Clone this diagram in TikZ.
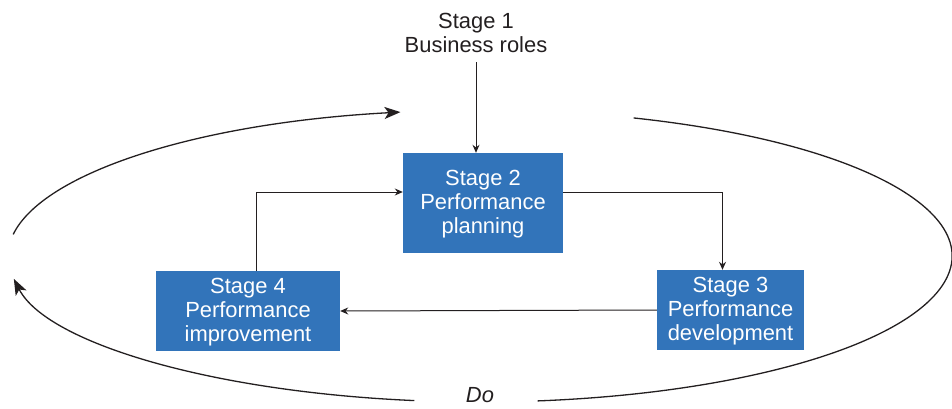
\documentclass[tikz,border=0pt]{standalone}
\usepackage{fontspec}
\setmainfont{Liberation Sans}
\usetikzlibrary{arrows.meta}
\definecolor{stageblue}{RGB}{50,116,186}
\definecolor{inkgray}{RGB}{35,31,32}
\begin{document}
\begin{tikzpicture}[x=1bp,y=1bp,
    stagebox/.style={fill=stageblue,text=white,align=center,inner sep=0pt,
      font=\fontsize{22}{24}\selectfont},
    link/.style={draw=inkgray,line width=1bp,-{Stealth[length=8bp,width=7bp]}},
    cyclearc/.style={draw=inkgray,line width=1.3bp},
    cyclehead/.style={cyclearc,-{Stealth[length=16bp,width=12bp,inset=4bp]}}]
    \useasboundingbox (0,0) rectangle (952,408);
    %       Stages
    \node[align=center,text=inkgray,font=\fontsize{22}{24}\selectfont] (s1) at (476,375) {Stage 1\\Business roles};
    \node[stagebox,minimum width=160bp,minimum height=100bp,text depth=3bp] (s2) at (483,205) {Stage 2\\Performance\\planning};
    \node[stagebox,minimum width=147bp,minimum height=80bp,text depth=3bp] (s3) at (730.5,98) {Stage 3\\Performance\\development};
    \node[stagebox,minimum width=184bp,minimum height=80bp,text depth=3bp] (s4) at (248,97) {Stage 4\\Performance\\improvement};
    \node[text=inkgray,font=\fontsize{22}{24}\selectfont\itshape] (do) at (480,13) {Do};
    %       Connectors
    \draw[link,shorten <=6bp] (s1.south) -- (s1.south |- s2.north);
    \draw[link] ([yshift=11bp]s2.east) -| ([xshift=-8bp]s3.north);
    \draw[link] (s3.west) -- (s4.east);
    \draw[link] ([xshift=8bp]s4.north) |- ([yshift=11bp]s2.west);
    %       Do cycle
    \draw[cyclehead] (480,152) ++(171.5:472 and 146) arc (171.5:99.7:472 and 146);
    \draw[cyclearc] (480,152) ++(71:472 and 146) arc (71:-83:472 and 146);
    \draw[cyclehead] (480,152) ++(-98:472 and 146) arc (-98:-171:472 and 146);
\end{tikzpicture}
\end{document}
